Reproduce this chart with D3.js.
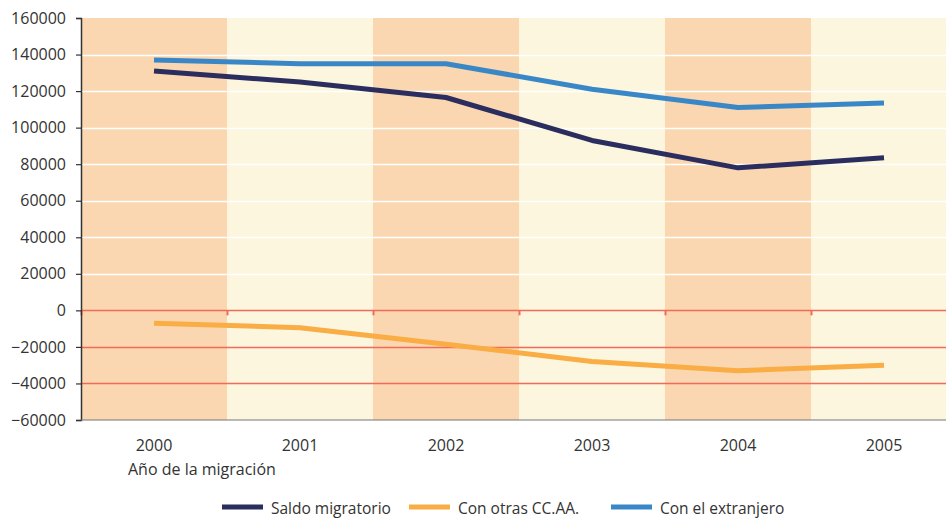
<!DOCTYPE html>
<html>
<head>
<meta charset="utf-8">
<script src="https://cdn.jsdelivr.net/npm/d3@7"></script>
<style>
  body { margin: 0; background: #fff; }
  svg { display: block; font-family: 'Open Sans', sans-serif; }
</style>
</head>
<body>
<svg id="chart"></svg>
<script>
const years = ['2000', '2001', '2002', '2003', '2004', '2005']
const saldo = [131000, 125000, 116500, 93000, 78000, 83500]
const otras = [-7000, -9500, -18500, -28000, -33000, -30000]
const extranjero = [137000, 135000, 135000, 121000, 111000, 113500]
const yTicks = [-60000, -40000, -20000, 0, 20000, 40000, 60000, 80000, 100000, 120000, 140000, 160000]

const COLORS = {
  saldo:      '#2b2d5e',
  otras:      '#f9ad44',
  extranjero: '#3a87c8',
  bandDark:   '#fad7b0',
  bandLight:  '#fcf6de',
  red:        '#f26a58',
}

const W = 946, H = 519
const mLeft = 81, mTop = 18, mBottom = 420
const bandW = 146

const svg = d3.select('#chart').attr('width', W).attr('height', H)

const x = d3.scaleBand().domain(years).range([mLeft, mLeft + bandW * years.length]).padding(0)
const y = d3.scaleLinear().domain([-60000, 160000]).range([mBottom, mTop])

// alternating bands
svg.append('g')
  .selectAll('rect')
  .data(years)
  .join('rect')
    .attr('x', d => x(d))
    .attr('y', mTop)
    .attr('width', x.bandwidth())
    .attr('height', mBottom - mTop)
    .attr('fill', (d, i) => i % 2 === 0 ? COLORS.bandDark : COLORS.bandLight)

// gridlines: white above zero, red at zero and below
svg.append('g')
  .selectAll('line')
  .data(yTicks.filter(v => v > -60000 && v < 160000))
  .join('line')
    .attr('x1', mLeft).attr('x2', W)
    .attr('y1', d => Math.round(y(d)) + 0.5)
    .attr('y2', d => Math.round(y(d)) + 0.5)
    .attr('stroke', d => d > 0 ? '#ffffff' : COLORS.red)
    .attr('stroke-width', d => d > 0 ? 1.5 : 1.3)

// small red ticks on the zero line at band edges
svg.append('g')
  .selectAll('line')
  .data(years)
  .join('line')
    .attr('x1', d => x(d) + 0.5).attr('x2', d => x(d) + 0.5)
    .attr('y1', y(0)).attr('y2', y(0) + 5)
    .attr('stroke', COLORS.red)
    .attr('stroke-width', 2)

// y axis
const yAxis = svg.append('g')
  .attr('transform', `translate(${mLeft},0)`)
  .call(d3.axisLeft(y).tickValues(yTicks).tickFormat(d3.format('d')).tickSize(5).tickPadding(10))
yAxis.select('.domain').attr('stroke', '#333').attr('stroke-width', 1.5)
yAxis.selectAll('.tick line').attr('stroke', '#333').attr('stroke-width', 1.2)
yAxis.selectAll('text').attr('font-size', '16px').attr('fill', '#333').attr('font-family', "'Open Sans', sans-serif")

// x axis baseline + labels
svg.append('line')
  .attr('x1', mLeft).attr('x2', W)
  .attr('y1', mBottom).attr('y2', mBottom)
  .attr('stroke', '#777').attr('stroke-width', 1.2)

svg.append('g')
  .selectAll('text')
  .data(years)
  .join('text')
    .attr('x', d => x(d) + x.bandwidth() / 2)
    .attr('y', 451)
    .attr('text-anchor', 'middle')
    .attr('font-size', '16px')
    .attr('fill', '#333')
    .text(d => d)

svg.append('text')
  .attr('x', 128).attr('y', 475)
  .attr('font-size', '16px')
  .attr('fill', '#333')
  .text('Año de la migración')

// series lines
const series = [
  { key: 'extranjero', name: 'Con el extranjero', values: extranjero },
  { key: 'saldo',      name: 'Saldo migratorio',  values: saldo },
  { key: 'otras',      name: 'Con otras CC.AA.',  values: otras },
]

const line = d3.line()
  .x((d, i) => x(years[i]) + x.bandwidth() / 2)
  .y(d => y(d))

svg.append('g')
  .selectAll('path')
  .data(series)
  .join('path')
    .attr('d', s => line(s.values))
    .attr('fill', 'none')
    .attr('stroke', s => COLORS[s.key])
    .attr('stroke-width', 5)
    .attr('stroke-linejoin', 'round')

// legend
const legendItems = [
  { key: 'saldo',      name: 'Saldo migratorio',  x: 222 },
  { key: 'otras',      name: 'Con otras CC.AA.',  x: 409 },
  { key: 'extranjero', name: 'Con el extranjero', x: 611 },
]
const lg = svg.append('g')
  .selectAll('g')
  .data(legendItems)
  .join('g')
    .attr('transform', d => `translate(${d.x},507)`)
lg.append('rect')
  .attr('x', 0).attr('y', -2.5)
  .attr('width', 41).attr('height', 5)
  .attr('fill', d => COLORS[d.key])
lg.append('text')
  .attr('x', 49)
  .attr('y', 7)
  .attr('font-size', '15.5px')
  .attr('fill', '#333')
  .text(d => d.name)
</script>
</body>
</html>
